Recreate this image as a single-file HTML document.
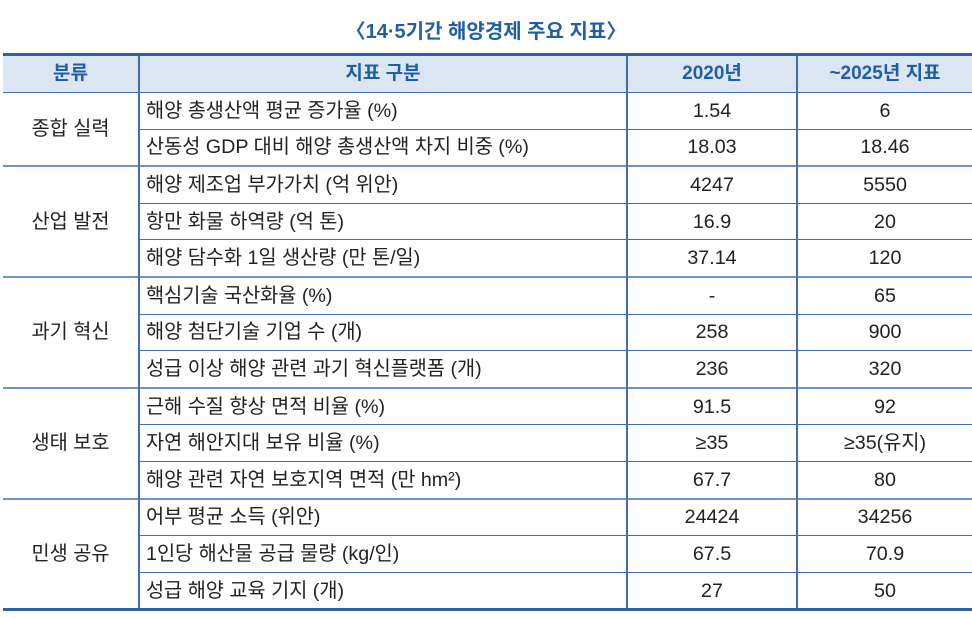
<!DOCTYPE html>
<html><head><meta charset="utf-8"><style>
body{margin:0;width:972px;height:618px;background:#fff;font-family:"Liberation Sans","Noto Sans CJK KR",sans-serif;overflow:hidden}
.t{position:absolute;left:0;top:15px;width:972px;text-align:center;color:#1f5fa6;font-weight:bold;font-size:20px}
table{position:absolute;left:3px;top:53px;width:969px;border-collapse:collapse;table-layout:fixed}
td,th{height:35.6px;padding:0;font-size:19.7px;line-height:22px;color:#222;border-top:1px solid #3f70aa;border-bottom:1px solid #3f70aa;text-align:center;white-space:nowrap;vertical-align:middle}
th{background:#dce6f2;color:#1f5fa6;font-weight:bold;font-size:19px;height:36px;border-top:3px solid #2f62a0}
td.l{text-align:left;padding-left:6px}
.v{border-left:2px solid #3f70aa}
tr.g td{border-top:2px solid #6e93c4}
tr.last td,td.b{border-bottom:3px solid #2f62a0}
</style></head><body>
<div class="t">〈14·5기간 해양경제 주요 지표〉</div>
<table>
<col style="width:136px"><col style="width:488px"><col style="width:170px"><col>
<tr><th>분류</th><th class="v">지표 구분</th><th class="v">2020년</th><th class="v">~2025년 지표</th></tr>
<tr><td rowspan="2">종합 실력</td><td class="l v">해양 총생산액 평균 증가율 (%)</td><td class="v">1.54</td><td class="v">6</td></tr>
<tr><td class="l v">산동성 GDP 대비 해양 총생산액 차지 비중 (%)</td><td class="v">18.03</td><td class="v">18.46</td></tr>
<tr class="g"><td rowspan="3">산업 발전</td><td class="l v">해양 제조업 부가가치 (억 위안)</td><td class="v">4247</td><td class="v">5550</td></tr>
<tr><td class="l v">항만 화물 하역량 (억 톤)</td><td class="v">16.9</td><td class="v">20</td></tr>
<tr><td class="l v">해양 담수화 1일 생산량 (만 톤/일)</td><td class="v">37.14</td><td class="v">120</td></tr>
<tr class="g"><td rowspan="3">과기 혁신</td><td class="l v">핵심기술 국산화율 (%)</td><td class="v">-</td><td class="v">65</td></tr>
<tr><td class="l v">해양 첨단기술 기업 수 (개)</td><td class="v">258</td><td class="v">900</td></tr>
<tr><td class="l v">성급 이상 해양 관련 과기 혁신플랫폼 (개)</td><td class="v">236</td><td class="v">320</td></tr>
<tr class="g"><td rowspan="3">생태 보호</td><td class="l v">근해 수질 향상 면적 비율 (%)</td><td class="v">91.5</td><td class="v">92</td></tr>
<tr><td class="l v">자연 해안지대 보유 비율 (%)</td><td class="v">≥35</td><td class="v">≥35(유지)</td></tr>
<tr><td class="l v">해양 관련 자연 보호지역 면적 (만 hm²)</td><td class="v">67.7</td><td class="v">80</td></tr>
<tr class="g"><td rowspan="3" class="b">민생 공유</td><td class="l v">어부 평균 소득 (위안)</td><td class="v">24424</td><td class="v">34256</td></tr>
<tr><td class="l v">1인당 해산물 공급 물량 (kg/인)</td><td class="v">67.5</td><td class="v">70.9</td></tr>
<tr class="last"><td class="l v">성급 해양 교육 기지 (개)</td><td class="v">27</td><td class="v">50</td></tr>
</table>
</body></html>
